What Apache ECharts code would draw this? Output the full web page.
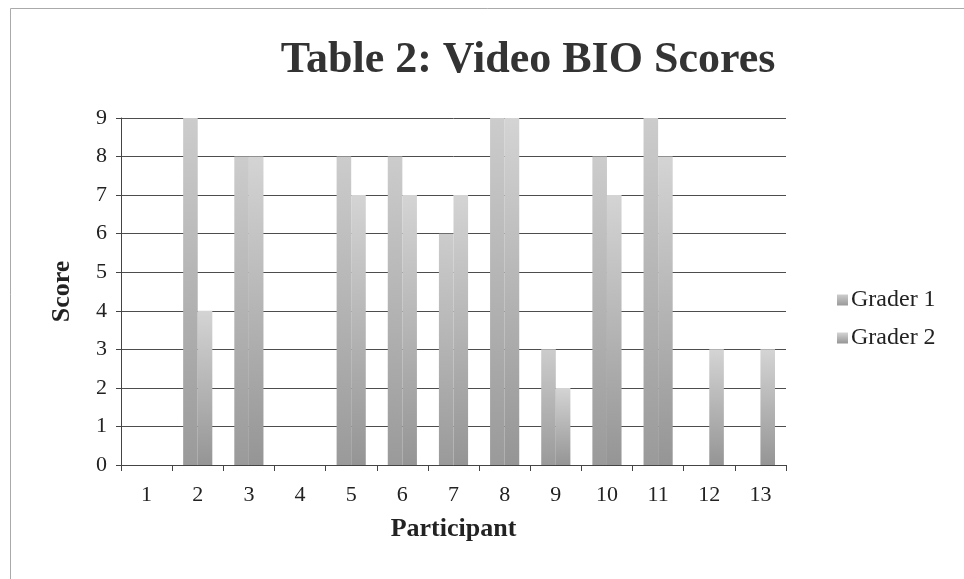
<!DOCTYPE html>
<html>
<head>
<meta charset="utf-8">
<script src="https://cdn.jsdelivr.net/npm/echarts@6/dist/echarts.min.js"></script>
<style>
html,body{margin:0;padding:0;background:#fff;}
#chart{width:964px;height:579px;}
</style>
</head>
<body>
<div id="chart"></div>
<script>
var categories = ['1','2','3','4','5','6','7','8','9','10','11','12','13'];
var grader1 = [0, 9, 8, 0, 8, 8, 6, 9, 3, 8, 9, 0, 0];
var grader2 = [0, 4, 8, 0, 7, 7, 7, 9, 2, 7, 8, 3, 3];
var yTicks = [0,1,2,3,4,5,6,7,8,9];

var FONT = '"Liberation Serif", "DejaVu Serif", serif';

function grad(top, bottom){
  return new echarts.graphic.LinearGradient(0,0,0,1,[{offset:0,color:top},{offset:1,color:bottom}]);
}

var chart = echarts.init(document.getElementById('chart'));
chart.setOption({
  backgroundColor: '#ffffff',
  animation: false,
  title: {
    text: 'Table 2: Video BIO Scores',
    left: 523, top: 34, textAlign: 'center',
    textStyle: {fontFamily: FONT, fontWeight: 'bold', fontSize: 44, color: '#333333'}
  },
  graphic: [{
    type: 'rect', shape: {x: 10.5, y: 8.5, width: 1100, height: 800},
    style: {fill: 'none', stroke: '#aaaaaa', lineWidth: 1}, silent: true
  }],
  legend: {
    orient: 'vertical', left: 832, top: 283, itemGap: 14,
    itemWidth: 11, itemHeight: 11, icon: 'rect',
    textStyle: {fontFamily: FONT, fontSize: 24, color: '#222222', padding: [0,0,0,-2]},
    data: ['Grader 1','Grader 2']
  },
  grid: {left: 121, right: 178, top: 118, bottom: 114, containLabel: false},
  xAxis: {
    type: 'category', data: categories,
    name: 'Participant', nameLocation: 'middle', nameGap: 51,
    nameTextStyle: {fontFamily: FONT, fontWeight: 'bold', fontSize: 26, color: '#222222'},
    axisLine: {lineStyle: {color: '#444444', width: 1}},
    axisTick: {show: true, length: 6, lineStyle: {color: '#444444'}},
    axisLabel: {fontFamily: FONT, fontSize: 22, color: '#222222', margin: 19}
  },
  yAxis: {
    type: 'value', min: 0, max: 9, interval: 1,
    name: 'Score', nameLocation: 'middle', nameGap: 46, nameRotate: 90,
    nameTextStyle: {fontFamily: FONT, fontWeight: 'bold', fontSize: 26, color: '#222222'},
    axisLine: {show: true, lineStyle: {color: '#444444', width: 1}},
    axisTick: {show: true, length: 5, lineStyle: {color: '#444444'}},
    axisLabel: {fontFamily: FONT, fontSize: 22, color: '#222222', margin: 14,
      formatter: function(v){ return yTicks.indexOf(v) >= 0 ? String(v) : ''; }},
    splitLine: {show: true, lineStyle: {color: '#4d4d4d', width: 1}}
  },
  series: [
    {name: 'Grader 1', type: 'bar', data: grader1, barGap: '0%', barCategoryGap: '43%',
     itemStyle: {color: grad('#cccccc', '#9a9a9a')}},
    {name: 'Grader 2', type: 'bar', data: grader2, barGap: '0%', barCategoryGap: '43%',
     itemStyle: {color: grad('#d4d4d4', '#959595')}}
  ]
});
</script>
</body>
</html>
